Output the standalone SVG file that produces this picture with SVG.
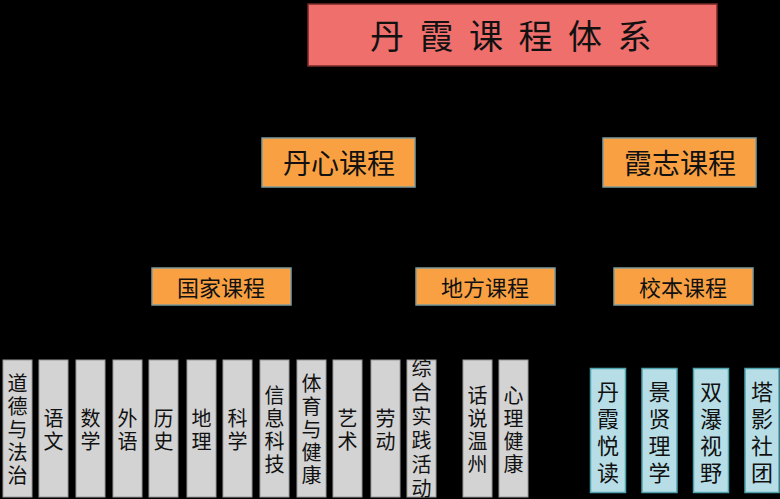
<svg xmlns="http://www.w3.org/2000/svg" width="780" height="499" viewBox="0 0 780 499">
<defs>
<style>
text{font-family:"Noto Sans CJK SC","Noto Sans CJK TC",sans-serif;fill:#111;text-anchor:middle;dominant-baseline:central}
.title{fill:#EE6F6C;stroke:#7a2a28;stroke-width:1.5}
.org{fill:#F9A142;stroke:#7F9A9A;stroke-width:1.5}
.gry{fill:#D3D3D3;stroke:#9a9a9a;stroke-width:1}
.blu{fill:#B7DEE6;stroke:#4FA3AE;stroke-width:1.5}
.t1{font-size:28px}
.t2{font-size:22px}
.t3{font-size:20px}
.t4{font-size:22px}
</style>
</defs>
<rect width="780" height="499" fill="#000"/>
<g id="connectors"></g>
<g id="root">
<rect class="title" x="308" y="4" width="409" height="62"/>
<text x="370" y="34" style="font-size:34px;letter-spacing:15.5px;text-anchor:start">丹霞课程体系</text>
</g>
<g id="danxin"><rect class="org" x="262" y="138" width="153" height="49"/><text class="t1" x="339" y="162">丹心课程</text></g>
<g id="xiazhi"><rect class="org" x="603" y="138" width="153" height="49"/><text class="t1" x="680" y="162">霞志课程</text></g>
<g id="guojia"><rect class="org" x="152" y="268" width="139" height="37"/><text class="t2" x="221" y="286">国家课程</text></g>
<g id="difang"><rect class="org" x="416" y="268" width="139" height="37"/><text class="t2" x="485" y="286">地方课程</text></g>
<g id="xiaoben"><rect class="org" x="614" y="268" width="139" height="37"/><text class="t2" x="683" y="286">校本课程</text></g>

<g id="g1"><rect class="gry" x="3" y="360" width="29" height="137"/><text class="t3" x="17.5"><tspan x="17.5" y="382">道</tspan><tspan x="17.5" y="405">德</tspan><tspan x="17.5" y="428">与</tspan><tspan x="17.5" y="451">法</tspan><tspan x="17.5" y="474">治</tspan></text></g>
<g id="g2"><rect class="gry" x="39" y="360" width="29" height="137"/><text class="t3"><tspan x="53.5" y="417">语</tspan><tspan x="53.5" y="440">文</tspan></text></g>
<g id="g3"><rect class="gry" x="76" y="360" width="29" height="137"/><text class="t3"><tspan x="90.5" y="417">数</tspan><tspan x="90.5" y="440">学</tspan></text></g>
<g id="g4"><rect class="gry" x="113" y="360" width="29" height="137"/><text class="t3"><tspan x="127.5" y="417">外</tspan><tspan x="127.5" y="440">语</tspan></text></g>
<g id="g5"><rect class="gry" x="149" y="360" width="29" height="137"/><text class="t3"><tspan x="163.5" y="417">历</tspan><tspan x="163.5" y="440">史</tspan></text></g>
<g id="g6"><rect class="gry" x="187" y="360" width="29" height="137"/><text class="t3"><tspan x="201.5" y="417">地</tspan><tspan x="201.5" y="440">理</tspan></text></g>
<g id="g7"><rect class="gry" x="223" y="360" width="29" height="137"/><text class="t3"><tspan x="237.5" y="417">科</tspan><tspan x="237.5" y="440">学</tspan></text></g>
<g id="g8"><rect class="gry" x="260" y="360" width="29" height="137"/><text class="t3"><tspan x="274.5" y="394">信</tspan><tspan x="274.5" y="417">息</tspan><tspan x="274.5" y="440">科</tspan><tspan x="274.5" y="463">技</tspan></text></g>
<g id="g9"><rect class="gry" x="297" y="360" width="29" height="137"/><text class="t3"><tspan x="311.5" y="382">体</tspan><tspan x="311.5" y="405">育</tspan><tspan x="311.5" y="428">与</tspan><tspan x="311.5" y="451">健</tspan><tspan x="311.5" y="474">康</tspan></text></g>
<g id="g10"><rect class="gry" x="333" y="360" width="29" height="137"/><text class="t3"><tspan x="347.5" y="417">艺</tspan><tspan x="347.5" y="440">术</tspan></text></g>
<g id="g11"><rect class="gry" x="371" y="360" width="29" height="137"/><text class="t3"><tspan x="385.5" y="417">劳</tspan><tspan x="385.5" y="440">动</tspan></text></g>
<g id="g12"><rect class="gry" x="407" y="360" width="29" height="137"/><text class="t3"><tspan x="421.5" y="367">综</tspan><tspan x="421.5" y="391">合</tspan><tspan x="421.5" y="415">实</tspan><tspan x="421.5" y="439">践</tspan><tspan x="421.5" y="463">活</tspan><tspan x="421.5" y="487">动</tspan></text></g>
<g id="g13"><rect class="gry" x="463" y="360" width="29" height="137"/><text class="t3"><tspan x="477.5" y="394">话</tspan><tspan x="477.5" y="417">说</tspan><tspan x="477.5" y="440">温</tspan><tspan x="477.5" y="463">州</tspan></text></g>
<g id="g14"><rect class="gry" x="499" y="360" width="29" height="137"/><text class="t3"><tspan x="513.5" y="394">心</tspan><tspan x="513.5" y="417">理</tspan><tspan x="513.5" y="440">健</tspan><tspan x="513.5" y="463">康</tspan></text></g>

<g id="b1"><rect class="blu" x="590.5" y="368.5" width="35" height="124"/><text class="t4"><tspan x="608" y="389.5">丹</tspan><tspan x="608" y="416.5">霞</tspan><tspan x="608" y="443.5">悦</tspan><tspan x="608" y="470.5">读</tspan></text></g>
<g id="b2"><rect class="blu" x="642" y="368.5" width="35" height="124"/><text class="t4"><tspan x="659.5" y="389.5">景</tspan><tspan x="659.5" y="416.5">贤</tspan><tspan x="659.5" y="443.5">理</tspan><tspan x="659.5" y="470.5">学</tspan></text></g>
<g id="b3"><rect class="blu" x="693.5" y="368.5" width="35" height="124"/><text class="t4"><tspan x="711" y="389.5">双</tspan><tspan x="711" y="416.5">瀑</tspan><tspan x="711" y="443.5">视</tspan><tspan x="711" y="470.5">野</tspan></text></g>
<g id="b4"><rect class="blu" x="745" y="368.5" width="34" height="124"/><text class="t4"><tspan x="762" y="389.5">塔</tspan><tspan x="762" y="416.5">影</tspan><tspan x="762" y="443.5">社</tspan><tspan x="762" y="470.5">团</tspan></text></g>
</svg>
